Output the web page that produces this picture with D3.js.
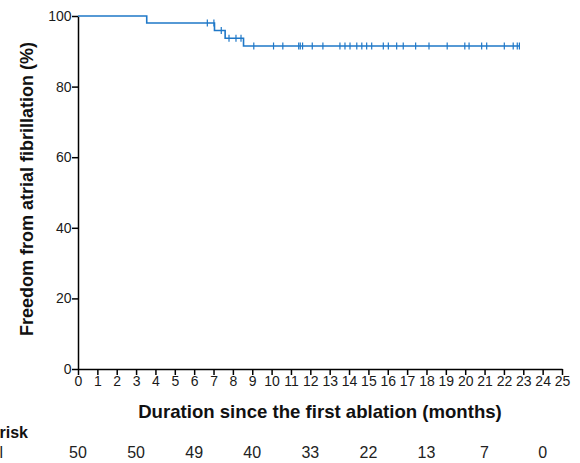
<!DOCTYPE html>
<html>
<head>
<meta charset="utf-8">
<script src="https://cdn.jsdelivr.net/npm/d3@7"></script>
<style>
  body { margin: 0; background: #fff; }
  svg { font-family: "Liberation Sans", Arial, sans-serif; }
</style>
</head>
<body>
<svg id="km" width="580" height="463"></svg>
<script>
// step curve: time (months) -> freedom from AF (%)
let stepTimes = [0, 3.55, 7.05, 7.6, 8.55, 22.83];
let stepSurv = [100, 98, 95.9, 93.7, 91.5, 91.5];

// censored observations
let censorTimes = [6.68, 7.02, 7.4, 7.8, 8.16, 8.42,
    9.08, 10.1, 10.58, 11.4, 11.48, 11.6, 12.1, 12.65, 13.53, 13.79, 14.05,
    14.4, 14.66, 14.91, 15.17, 15.77, 16.03, 16.46, 16.8, 17.44, 18.13,
    19.07, 19.98, 20.2, 20.85, 21.11, 22.02, 22.48, 22.69, 22.8];

let xTicks = d3.range(0, 26, 1);
let yTicks = [0, 20, 40, 60, 80, 100];

let riskTimes = [0, 3, 6, 9, 12, 15, 18, 21, 24];
let riskCounts = [50, 50, 49, 40, 33, 22, 13, 7, 0];

let svg = d3.select("#km");
let lineColor = "#1f78c8";

let xMap = d3.scaleLinear().domain([0, 25]).range([78, 562]);
let yMap = d3.scaleLinear().domain([0, 100]).range([369, 16]);

// level of the curve at time t
function survAt(t) {
    let s = stepSurv[0];
    for (let i = 0; i < stepTimes.length; i++) {
        if (stepTimes[i] <= t) s = stepSurv[i];
    }
    return s;
}

// axes
let xAxis = svg.append("g")
    .attr("transform", "translate(0," + yMap(0) + ")")
    .call(d3.axisBottom(xMap).tickValues(xTicks).tickSize(6).tickSizeOuter(0).tickFormat(d3.format("d")));
let yAxis = svg.append("g")
    .attr("transform", "translate(" + xMap(0) + ",0)")
    .call(d3.axisLeft(yMap).tickValues(yTicks).tickSize(6).tickSizeOuter(0));

[xAxis, yAxis].forEach(a => {
    a.selectAll("path, line").attr("stroke", "#000").attr("stroke-width", 1.5);
    a.selectAll("text").attr("fill", "#1a1a1a").style("font-size", "14px")
        .style("font-family", "'Liberation Sans', Arial, sans-serif");
});
xAxis.selectAll("text").attr("dy", 0).attr("y", 17);
yAxis.selectAll("text").attr("x", -6.5);

// curve
let pts = stepTimes.map((t, i) => ({t: t, s: stepSurv[i]}));
let line = d3.line().x(d => xMap(d.t)).y(d => yMap(d.s)).curve(d3.curveStepAfter);
svg.append("path")
    .datum(pts)
    .attr("d", line)
    .attr("fill", "none")
    .attr("stroke", lineColor)
    .attr("stroke-width", 1.6);

// censor ticks
svg.append("g").selectAll("line").data(censorTimes).enter().append("line")
    .attr("x1", d => xMap(d)).attr("x2", d => xMap(d))
    .attr("y1", d => yMap(survAt(d)) - 3.5)
    .attr("y2", d => yMap(survAt(d)) + 3.5)
    .attr("stroke", lineColor)
    .attr("stroke-width", 1.2);

// axis titles
svg.append("text")
    .attr("x", 320).attr("y", 418)
    .attr("text-anchor", "middle")
    .style("font-size", "18.6px").style("font-weight", "bold")
    .attr("fill", "#111")
    .text("Duration since the first ablation (months)");

svg.append("text")
    .attr("transform", "translate(33,189) rotate(-90)")
    .attr("text-anchor", "middle")
    .style("font-size", "18px").style("font-weight", "bold")
    .attr("fill", "#111")
    .text("Freedom from atrial fibrillation (%)");

// number at risk table
svg.append("text")
    .attr("x", 28).attr("y", 438)
    .attr("text-anchor", "end")
    .style("font-size", "16px").style("font-weight", "bold")
    .attr("fill", "#111")
    .text("Number at risk");

svg.append("text")
    .attr("x", 3).attr("y", 458)
    .attr("text-anchor", "end")
    .style("font-size", "16px")
    .attr("fill", "#222")
    .text("All");

svg.append("g").selectAll("text").data(riskTimes).enter().append("text")
    .attr("x", d => xMap(d))
    .attr("y", 458)
    .attr("text-anchor", "middle")
    .style("font-size", "16px")
    .attr("fill", "#222")
    .text((d, i) => riskCounts[i]);
</script>
</body>
</html>
